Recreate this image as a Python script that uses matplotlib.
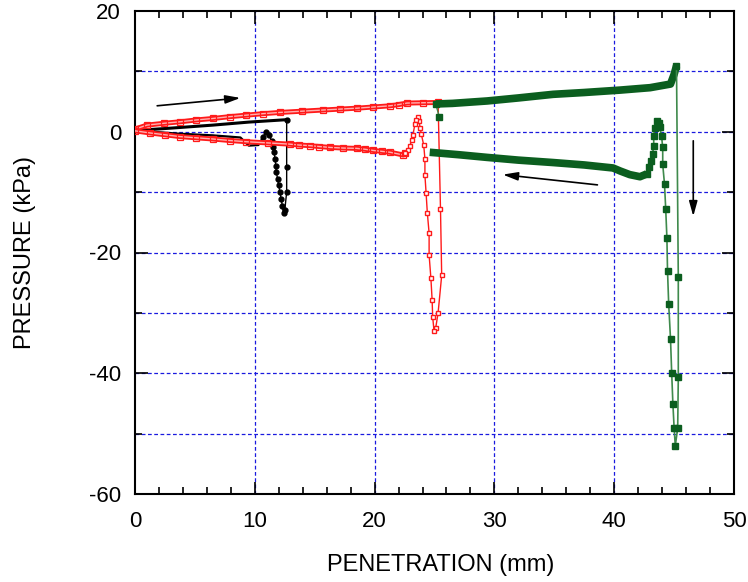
import numpy as np
import matplotlib
matplotlib.use("Agg")
import matplotlib.pyplot as plt
from matplotlib.ticker import MultipleLocator

plt.rcParams['font.family'] = ['Liberation Sans', 'DejaVu Sans']
plt.rcParams['axes.unicode_minus'] = False

# test 1 (black) - penetration to ~12.7 mm
blk_load_x = [0, 3.0, 6.5, 9.5, 12.66]
blk_load_y = [0.2, 0.6, 1.1, 1.6, 2.0]
blk_drop_x = [12.66, 12.66, 12.66, 12.5, 12.4, 12.3, 12.2, 12.1, 12.0, 11.9, 11.8,
              11.75, 11.7, 11.6, 11.55, 11.4, 11.2, 10.9, 10.7]
blk_drop_y = [2.0, -5.9, -10.0, -13.0, -13.4, -12.3, -11.1, -10.0, -8.9, -7.8, -6.7,
              -5.6, -4.5, -3.4, -2.6, -1.5, -0.6, 0.0, -0.9]
blk_unload_x = [10.7, 10.3, 9.5, 8.8, 6.5, 3.5, 0.7, 0]
blk_unload_y = [-0.9, -2.2, -2.3, -0.95, -0.6, -0.3, 0.1, 0]

# test 2 (red) - penetration to ~25 mm
red_load_x = [0, 1.0, 2.4, 3.75, 5.1, 6.5, 7.9, 9.3, 10.7, 12.1, 13.9, 15.7, 17.1,
              18.5, 19.9, 21.3, 22.0, 22.7, 24.0, 25.3]
red_load_y = [0.45, 1.1, 1.4, 1.65, 1.95, 2.2, 2.5, 2.75, 3.0, 3.2, 3.4, 3.6, 3.75,
              3.9, 4.1, 4.3, 4.5, 4.75, 4.8, 4.85]
red_drop_x = [25.3, 25.5, 25.6, 25.3, 25.1, 24.96, 24.85, 24.8, 24.7, 24.55, 24.55,
              24.4, 24.3, 24.2, 24.2, 24.1, 23.9, 23.8, 23.7, 23.65, 23.45, 23.37,
              23.2, 23.1, 22.95, 22.8, 22.5]
red_drop_y = [4.85, -12.8, -23.8, -30.0, -32.5, -33.0, -30.7, -27.8, -24.3, -20.4, -16.8,
              -13.4, -10.2, -7.2, -4.5, -2.2, -0.4, 0.7, 1.8, 2.4, 1.9, 1.3,
              -0.5, -1.4, -2.3, -3.1, -3.6]
red_unload_x = [22.5, 22.4, 21.3, 20.6, 19.9, 19.2, 18.5, 17.4, 16.3, 15.4, 14.6, 13.7,
                12.9, 11.1, 9.3, 7.9, 6.5, 5.1, 3.75, 2.5, 1.25, 0]
red_unload_y = [-3.6, -3.85, -3.4, -3.25, -3.1, -2.9, -2.75, -2.7, -2.6, -2.45, -2.3, -2.2,
                -2.05, -1.85, -1.65, -1.45, -1.2, -1.0, -0.8, -0.5, -0.2, 0.15]

# test 3 (green) - penetration to ~45 mm
grn_start_x = [25.4, 25.1]
grn_start_y = [2.5, 4.6]
grn_load_x = [25.1, 26.5, 29.4, 32.0, 34.9, 37.5, 40.5, 43.0, 44.7, 45.0, 45.2]
grn_load_y = [4.6, 4.7, 5.1, 5.6, 6.2, 6.5, 6.9, 7.3, 7.9, 9.5, 10.9]
grn_drop_x = [45.2, 45.35, 45.35, 45.3, 45.1, 45.0, 44.9, 44.8, 44.7, 44.55, 44.45,
              44.4, 44.3, 44.2, 44.05, 44.05, 43.95, 43.8, 43.77, 43.6, 43.4, 43.3,
              43.3, 43.2, 43.1, 42.9, 42.7]
grn_drop_y = [10.9, -24.1, -40.7, -49.1, -52.0, -49.0, -45.1, -40.0, -34.3, -28.6, -23.0,
              -17.6, -12.8, -8.7, -5.4, -2.6, -0.7, 0.8, 1.5, 1.8, 0.7, -0.7,
              -2.3, -3.7, -4.8, -5.9, -7.0]
grn_unload_x = [42.7, 42.15, 41.3, 40.5, 39.9, 37.5, 34.9, 32.0, 29.4, 27.0, 24.6]
grn_unload_y = [-7.0, -7.45, -7.1, -6.5, -6.0, -5.5, -5.1, -4.7, -4.25, -3.8, -3.4]

GREEN = '#0b5e1f'
GREEN_LN = '#3f8a4c'
RED = '#ff1a1a'

fig = plt.figure(figsize=(7.48, 5.82), dpi=100)
ax = fig.add_axes([135 / 748, 88 / 582, 599 / 748, 483 / 582])

# grid
for gx in [10, 20, 30, 40]:
    ax.axvline(gx, color='#1a1adf', lw=0.9, ls=(0, (3, 2)), zorder=0)
for gy in [10, 0, -10, -20, -30, -40, -50]:
    ax.axhline(gy, color='#1a1adf', lw=0.9, ls=(0, (3, 2)), zorder=0)

# black
ax.plot(blk_load_x, blk_load_y, color='k', lw=2.2, zorder=2)
ax.plot(blk_unload_x, blk_unload_y, color='k', lw=1.6, zorder=2)
ax.plot(blk_drop_x, blk_drop_y, color='k', lw=1.0, marker='o', ms=3.5,
        mfc='k', mec='k', zorder=3)

# red
for bx, by in [(red_load_x, red_load_y), (red_unload_x, red_unload_y)]:
    ax.plot(bx, by, color=RED, lw=3.6, zorder=4)
    ax.plot(bx, by, color='#ffb0b0', lw=1.0, marker='s', ms=4.5, mfc='none',
            mec=RED, mew=0.9, zorder=4)
ax.plot(red_drop_x, red_drop_y, color=RED, lw=1.0, marker='s', ms=3.5,
        mfc='white', mec=RED, mew=1.0, zorder=4)

# green
ax.plot(grn_start_x, grn_start_y, color=GREEN_LN, lw=1.0, marker='s', ms=5,
        mfc=GREEN, mec=GREEN, zorder=5)
ax.plot(grn_load_x, grn_load_y, color=GREEN, lw=5.5, solid_capstyle='butt', zorder=5)
ax.plot(grn_unload_x, grn_unload_y, color=GREEN, lw=5.5, solid_capstyle='butt', zorder=5)
ax.plot(grn_drop_x, grn_drop_y, color=GREEN_LN, lw=1.2, marker='s', ms=5,
        mfc=GREEN, mec=GREEN, zorder=5)

# arrows
arw = dict(arrowstyle='-|>,head_length=0.9,head_width=0.25', color='k', lw=1.2,
           shrinkA=0, shrinkB=0)
ax.annotate('', xy=(8.8, 5.6), xytext=(1.85, 4.3), arrowprops=arw)
ax.annotate('', xy=(30.7, -7.1), xytext=(38.6, -8.8), arrowprops=arw)
ax.annotate('', xy=(46.6, -14.0), xytext=(46.6, -1.5), arrowprops=arw)

ax.set_xlim(0, 50)
ax.set_ylim(-60, 20)
ax.xaxis.set_major_locator(MultipleLocator(10))
ax.xaxis.set_minor_locator(MultipleLocator(2))
ax.yaxis.set_major_locator(MultipleLocator(20))
ax.yaxis.set_minor_locator(MultipleLocator(10))
ax.tick_params(which='both', direction='in', top=True, right=True, labelsize=16,
               width=1.2)
ax.tick_params(axis='x', which='both', pad=12)
ax.tick_params(axis='y', which='both', pad=10)
ax.tick_params(which='major', length=9)
ax.tick_params(which='minor', length=5)
for s in ax.spines.values():
    s.set_linewidth(1.5)

ax.set_xlabel('PENETRATION (mm)', fontsize=17)
ax.set_ylabel('PRESSURE (kPa)', fontsize=17, labelpad=38)
ax.xaxis.set_label_coords(0.511, -0.125)

fig.savefig('out.png', dpi=100)
